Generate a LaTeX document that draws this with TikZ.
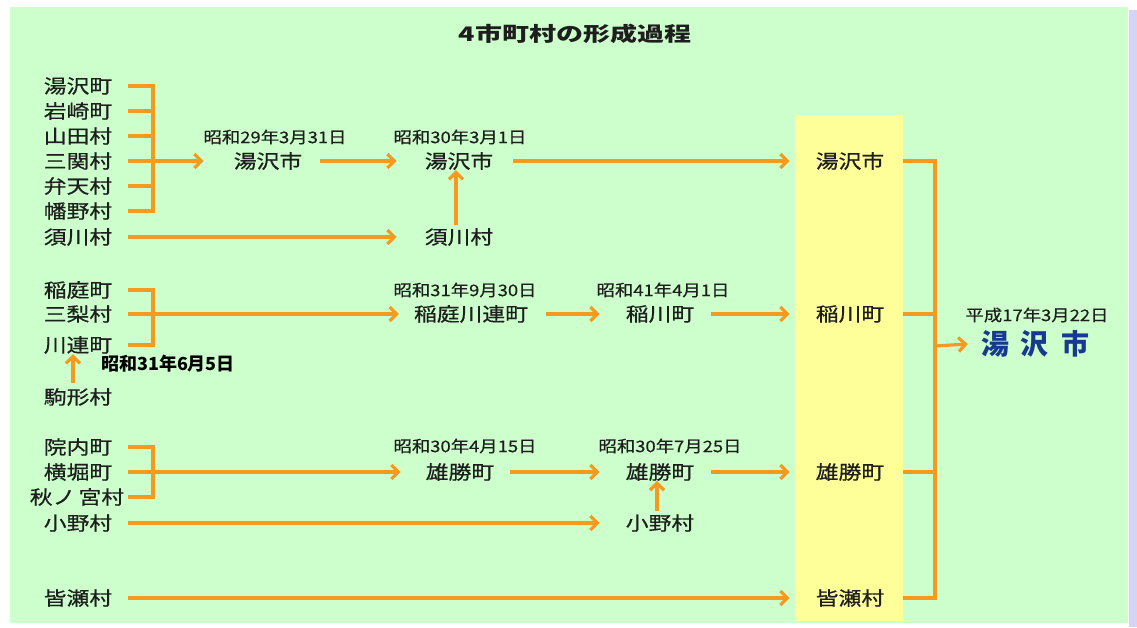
\documentclass[tikz,border=0pt]{standalone}
\usepackage{fontspec}
\usetikzlibrary{arrows.meta}
\newfontfamily\jp[FakeStretch=1.2,FakeBold=0.6]{Noto Sans CJK JP}
\newfontfamily\jpd[FakeStretch=1.15,FakeBold=0.4]{Noto Sans CJK JP}
\newfontfamily\jpt[FakeStretch=1.35]{Noto Sans CJK JP}
\newfontfamily\jpb{Noto Sans CJK JP}
\definecolor{bg}{HTML}{CCFFCC}
\definecolor{yel}{HTML}{FFFF99}
\definecolor{org}{HTML}{F59A1E}
\definecolor{txt}{HTML}{1E1E1E}
\definecolor{navy}{HTML}{183A8E}
\definecolor{lav}{HTML}{D4D4F4}
\tikzset{
 nm/.style={inner sep=0pt, text=txt, font=\jp\fontsize{19pt}{19pt}\selectfont},
 dt/.style={inner sep=0pt, text=txt, font=\jpd\fontsize{16pt}{16pt}\selectfont},
 ln/.style={draw=org, line width=3.2pt},
 brk/.style={ln, line join=miter},
 arr/.style={ln, -{Straight Barb[length=7pt,width=14pt]}},
}
\begin{document}
\begin{tikzpicture}[x=1pt,y=-1pt]
\useasboundingbox (0,0) rectangle (1137,627);
\fill[white] (0,0) rectangle (1137,627);
\fill[bg] (10,7) rectangle (1128,623);
\fill[lav] (1129,10) rectangle (1137,627);
\fill[yel] (795,115) rectangle (903,621);

\node[inner sep=0pt, text=txt, font=\jpt\bfseries\fontsize{20pt}{20pt}\selectfont] (title) at (575,34) {4市町村の形成過程};

\coordinate (L) at (128,0);
\coordinate (B) at (153,0);
\coordinate (Y) at (903,0);
\coordinate (R) at (935,0);

% group 1
\node[nm] (yzc) at (78,86) {湯沢町};
\node[nm] (iwa) at (78,111) {岩崎町};
\node[nm] (yam) at (78,136) {山田村};
\node[nm] (san) at (78,161) {三関村};
\node[nm] (ben) at (78,186) {弁天村};
\node[nm] (hat) at (78,211) {幡野村};
\node[nm] (sug) at (78,237) {須川村};
\node[dt] (d1) at (275,137) {昭和29年3月31日};
\node[nm] (a1) at (268,161) {湯沢市};
\node[dt] (d2) at (460,137) {昭和30年3月1日};
\node[nm] (a2) at (459,161) {湯沢市};
\node[nm] (s2) at (459,237) {須川村};
\node[nm] (a3) at (850,161) {湯沢市};

\draw[brk] (yzc -| L) -- (yzc -| B) -- (hat -| B) -- (hat -| L);
\foreach \n in {iwa,yam,san,ben} \draw[ln] (\n -| L) -- (\n -| B);
\draw[arr] (san -| B) -- ([xshift=-30pt]a1.west);
\draw[arr] ([xshift=18pt]a1.east) -- ([xshift=-28pt]a2.west);
\draw[arr] (sug -| L) -- ([xshift=-28pt]s2.west);
\draw[arr, shorten <=3pt] ([xshift=-3pt]s2.north) -- ([xshift=-3pt]a2.south);
\draw[arr] ([xshift=20pt]a2.east) -- ([xshift=-26pt]a3.west);

% group 2
\node[nm] (ini) at (78,290) {稲庭町};
\node[nm] (mis) at (78,314) {三梨村};
\node[nm] (kaw) at (78,345) {川連町};
\node[inner sep=0pt, text=black, font=\jpb\bfseries\fontsize{18pt}{18pt}\selectfont] (d0) at (168,364) {昭和31年6月5日};
\node[nm] (kom) at (78,397) {駒形村};
\node[dt] (d3) at (465,290) {昭和31年9月30日};
\node[nm] (b1) at (471,314) {稲庭川連町};
\node[dt] (d4) at (663,290) {昭和41年4月1日};
\node[nm] (b2) at (660,314) {稲川町};
\node[nm] (b3) at (850,314) {稲川町};

\draw[brk] (ini -| L) -- (ini -| B) -- (kaw -| B) -- (kaw -| L);
\draw[arr] (mis -| L) -- ([xshift=-15pt]b1.west);
\draw[arr, shorten <=5pt] ([xshift=-5pt]kom.north) -- ([xshift=-5pt]kaw.south);
\draw[arr] ([xshift=18pt]b1.east) -- ([xshift=-26pt]b2.west);
\draw[arr] ([xshift=17pt]b2.east) -- ([xshift=-26pt]b3.west);

% group 3
\node[nm] (inn) at (78,447) {院内町};
\node[nm] (yok) at (78,472) {横堀町};
\node[nm] (aki) at (77,497) {秋ノ\,宮村};
\node[nm] (ono) at (78,523) {小野村};
\node[nm] (min) at (78,598) {皆瀬村};
\node[dt] (d5) at (465,446) {昭和30年4月15日};
\node[nm] (c1) at (460,472) {雄勝町};
\node[dt] (d6) at (670,446) {昭和30年7月25日};
\node[nm] (c2) at (660,472) {雄勝町};
\node[nm] (o2) at (660,523) {小野村};
\node[nm] (c3) at (850,472) {雄勝町};
\node[nm] (m3) at (850,598) {皆瀬村};

\draw[brk] (inn -| L) -- (inn -| B) -- (aki -| B) -- (aki -| L);
\draw[arr] (yok -| L) -- ([xshift=-25pt]c1.west);
\draw[arr] ([xshift=16pt]c1.east) -- ([xshift=-26pt]c2.west);
\draw[arr] ([xshift=17pt]c2.east) -- ([xshift=-26pt]c3.west);
\draw[arr] (ono -| L) -- ([xshift=-26pt]o2.west);
\draw[arr, shorten <=3pt] ([xshift=-3pt]o2.north) -- ([xshift=-3pt]c2.south);
\draw[arr] (min -| L) -- ([xshift=-26pt]m3.west);

% final
\node[dt] (d7) at (1037,315) {平成17年3月22日};
\node[inner sep=0pt, text=navy, font=\jpb\bfseries\fontsize{28pt}{28pt}\selectfont] (fin) at (1035,344) {湯\hspace{12pt}沢\hspace{12pt}市};
\coordinate (J) at (935,346);
\draw[brk] (a3 -| Y) -- (a3 -| R) -- (m3 -| R) -- (m3 -| Y);
\draw[ln] (b3 -| Y) -- (b3 -| R);
\draw[ln] (c3 -| Y) -- (c3 -| R);
\draw[arr] (J) -- ([xshift=-13pt]fin.west);
\end{tikzpicture}
\end{document}
